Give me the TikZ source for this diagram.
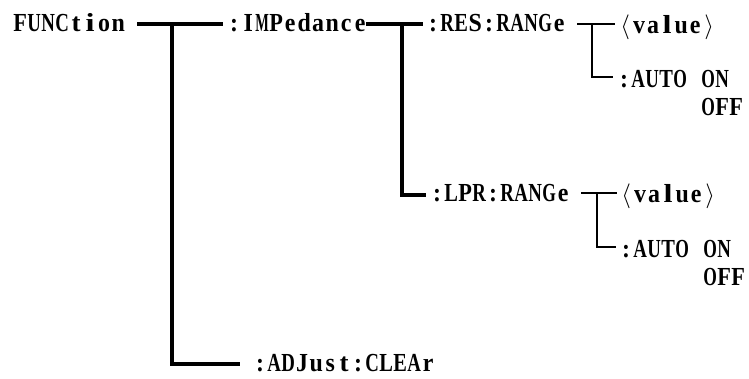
\documentclass[tikz,border=0pt]{standalone}
\usepackage{fontspec}
\usepackage{graphicx}
\setmainfont{Liberation Serif}
\usetikzlibrary{calc}
\newlength\cw \setlength\cw{14pt}
\newlength\chmax \setlength\chmax{13.6pt}
\newlength\chmin \setlength\chmin{9pt}
\newsavebox\chbox
\makeatletter
\newcommand\onechar[1]{\sbox\chbox{#1}%
  \ifdim0.92\wd\chbox>\chmax
    \makebox[\cw][c]{\resizebox{\chmax}{\height}{\usebox\chbox}}%
  \else
    \ifcat a\noexpand#1%
      \ifdim0.92\wd\chbox<\chmin
        \makebox[\cw][c]{\resizebox{\chmin}{\height}{\usebox\chbox}}%
      \else
        \makebox[\cw][c]{\scalebox{0.92}[1]{\usebox\chbox}}%
      \fi
    \else
      \makebox[\cw][c]{\scalebox{0.92}[1]{\usebox\chbox}}%
    \fi
  \fi}
\newcommand\mono[1]{\@tfor\mch:=#1\do{\expandafter\onechar\expandafter{\mch}}}
\makeatother
\newcommand\lang{\makebox[\cw][c]{$\langle$}}
\newcommand\rang{\makebox[\cw][c]{$\rangle$}}
\newcommand\valtext{\lang\mono{value}\rang}
\newcommand\autotext{\mono{:AUTO}\hspace{\cw}\mono{ON}}
\begin{document}
\begin{tikzpicture}[x=1pt,y=-1pt,
  txt/.style={anchor=base west, inner sep=0pt, font=\fontsize{26}{26}\selectfont\bfseries},
  thk/.style={line width=3.5pt},
  thn/.style={line width=1.2pt}]
\useasboundingbox (0,0) rectangle (749,378);
% texts
\node[txt] (fn)  at (13,31)  {\mono{FUNCtion}};
\node[txt] (imp) at (227,31) {\mono{:IMPedance}};
\node[txt] (res) at (426,31) {\mono{:RES:RANGe}};
\node[txt] (rv)  at (618,33) {\valtext};
\node[txt] (ra)  at (617,87) {\autotext};
\node[txt] (ro)  at (701,115) {\mono{OFF}};
\node[txt] (lpr) at (430,201) {\mono{:LPR:RANGe}};
\node[txt] (lv)  at (619,202) {\valtext};
\node[txt] (la)  at (619,257) {\autotext};
\node[txt] (lo)  at (703,285) {\mono{OFF}};
\node[txt] (adj) at (253,371) {\mono{:ADJust:CLEAr}};
% junctions
\coordinate (j1) at (172,24);
\coordinate (j2) at (402,24);
\coordinate (j3) at (592,24);
\coordinate (j4) at (597,193);
% thick connectors
\draw[thk] ($(fn.base east)+(12,-7)$) -- ($(imp.base west)+(-4,-7)$);
\draw[thk] (j1) |- ($(adj.base west)+(-13,-7)$);
\draw[thk] ($(imp.base east)+(-1,-7)$) -- ($(res.base west)+(-3,-7)$);
\draw[thk] (j2) |- ($(lpr.base west)+(-4,-6)$);
% thin connectors
\draw[thn] ($(res.base east)+(11,-7)$) -- ($(rv.base west)+(-3,-9)$);
\draw[thn] (j3) |- ($(ra.base west)+(-4,-10)$);
\draw[thn] ($(lpr.base east)+(11,-8)$) -- ($(lv.base west)+(-2,-9)$);
\draw[thn] (j4) |- ($(la.base west)+(-3,-10)$);
\end{tikzpicture}
\end{document}
